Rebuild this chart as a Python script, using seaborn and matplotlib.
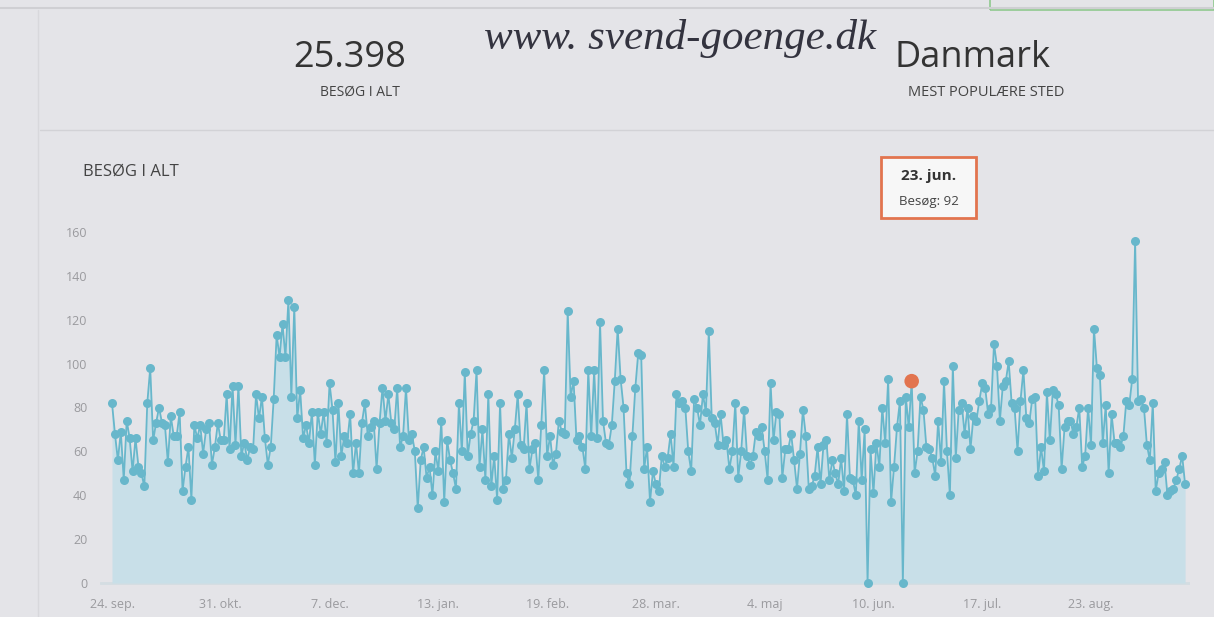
import numpy as np
import pandas as pd
import matplotlib.pyplot as plt
import matplotlib.patches as patches
import matplotlib.dates as mdates
import seaborn as sns

# Daily visits (24 sep -> 24 sep)
start_date = '2016-09-24'
visits = [
    82, 68, 56, 69, 47, 74, 66, 51, 66, 53, 50, 44, 82, 98, 65, 73, 80, 73, 72, 55,
    76, 67, 67, 78, 42, 53, 62, 38, 72, 66, 72, 59, 70, 73, 54, 62, 73, 65, 65, 86,
    61, 90, 63, 90, 58, 64, 56, 62, 61, 86, 75, 85, 66, 54, 62, 84, 113, 103, 118, 103,
    129, 85, 126, 75, 88, 66, 72, 64, 78, 54, 78, 68, 78, 64, 91,
    79, 55, 82, 58, 67, 64, 77, 50, 64, 50, 73, 82, 67, 71, 74, 52, 73, 89, 74, 86,
    73, 70, 89, 62, 67, 89, 65, 68, 60, 34, 56, 62, 48, 53, 40, 60, 51, 74, 37, 65,
    56, 50, 43, 82, 60, 96, 58, 68, 74, 97, 53, 70, 47,
    86, 44, 58, 38, 82, 43, 47, 68, 57, 70, 86, 63, 61, 82, 52, 61, 64, 47, 72, 97,
    58, 67, 54, 59, 74, 69, 68, 124, 85, 92,
    65, 67, 62, 52, 97, 67, 97, 66, 119, 74, 64, 63, 72, 92, 116, 93, 80, 50, 45, 67,
    89, 105, 104, 52, 62, 37, 51, 45, 42, 58, 53, 57, 68, 53, 86,
    82, 83, 80, 60, 51, 84, 80, 72, 86, 78, 115, 75, 73, 63, 77, 63, 65, 52, 60, 82,
    48, 60, 79, 58, 54, 58, 69, 67, 71, 60, 47, 91,
    65, 78, 77, 48, 61, 61, 68, 56, 43, 59, 79, 67, 43, 44, 49, 62, 45, 63, 65, 47,
    56, 50, 45, 57, 42, 77, 48, 47, 40, 74, 47, 70,
    0, 61, 41, 64, 53, 80, 64, 93, 37, 53, 71, 83, 0, 85, 71, 92, 50, 60, 85, 79,
    62, 61, 57, 49, 74, 55, 92, 60, 40, 99, 57, 79,
    82, 68, 80, 61, 76, 74, 83, 91, 89, 77, 80, 109, 99, 74, 90, 92, 101, 82, 80, 60,
    83, 97, 75, 73, 84, 85, 49, 62, 51, 87, 65, 88,
    86, 81, 52, 71, 74, 74, 68, 71, 80, 53, 58, 80, 63, 116, 98, 95, 64, 81, 50, 77,
    64, 64, 62, 67, 83, 81, 93, 156, 83, 84, 80, 63, 56, 82, 42, 50, 52, 55, 40, 42,
    43, 47, 52, 58, 45,
]

tick_dates = ['2016-09-24', '2016-10-31', '2016-12-07', '2017-01-13', '2017-02-19',
              '2017-03-28', '2017-05-04', '2017-06-10', '2017-07-17', '2017-08-23']
tick_labels = ['24. sep.', '31. okt.', '7. dec.', '13. jan.', '19. feb.',
               '28. mar.', '4. maj', '10. jun.', '17. jul.', '23. aug.']
y_ticks = [0, 20, 40, 60, 80, 100, 120, 140, 160]

highlight_date = '2017-06-23'
highlight_title = '23. jun.'
highlight_text = 'Besøg: 92'

total_visits = '25.398'
total_label = 'BESØG I ALT'
top_place = 'Danmark'
top_place_label = 'MEST POPULÆRE STED'
chart_title = 'BESØG I ALT'
site_note = 'www. svend-goenge.dk'

df = pd.DataFrame({'date': pd.date_range(start_date, periods=len(visits)),
                   'visits': visits})

# colours
bg = '#e4e4e8'
line_c = '#68b7cb'
fill_c = '#c8dfe8'
red_c = '#e2744f'
grey_txt = '#9a9a9e'

sns.set_style('white')
plt.rcParams['font.family'] = ['Open Sans', 'DejaVu Sans']

W, H = 1214, 617
fig = plt.figure(figsize=(W / 100, H / 100), dpi=100, facecolor=bg)

def px(x, y):
    return x / W, 1 - y / H

# axes placed so that day 0 -> x=112 px, 160 -> y=232 px, 0 -> y=583 px
left_px, right_px, top_px, bot_px = 100, 1190, 220, 590
ax = fig.add_axes([left_px / W, 1 - bot_px / H, (right_px - left_px) / W, (bot_px - top_px) / H])
ax.set_facecolor(bg)

ppd = 2.94
d0 = mdates.date2num(pd.Timestamp(start_date))
ax.set_xlim(d0 - (112 - left_px) / ppd, d0 + (right_px - 112) / ppd)
ppu = 351 / 160
ax.set_ylim(-(bot_px - 583) / ppu, 160 + (232 - top_px) / ppu)

ax.fill_between(df['date'], df['visits'], 0, color=fill_c, linewidth=0, zorder=1)
sns.lineplot(data=df, x='date', y='visits', ax=ax, color=line_c, linewidth=1.3,
             marker='o', markersize=6.5, markeredgewidth=0, zorder=3)

hi = df[df['date'] == pd.Timestamp(highlight_date)]
ax.scatter(hi['date'], hi['visits'], s=110, color=red_c, edgecolor='none', zorder=5)

ax.set_xticks(pd.to_datetime(tick_dates))
ax.set_xticklabels(tick_labels)
ax.set_yticks(y_ticks)
ax.tick_params(axis='both', length=0, labelsize=9, colors=grey_txt)
ax.tick_params(axis='x', pad=6)
ax.tick_params(axis='y', pad=9)
ax.set_xlabel('')
ax.set_ylabel('')
for s in ax.spines.values():
    s.set_visible(False)
ax.axhline(0, color='#d4dde2', linewidth=2, zorder=0)

# header texts
fig.text(*px(350, 58), total_visits, fontsize=26, color='#333333', ha='center', va='center')
fig.text(*px(360, 92), total_label, fontsize=10, color='#444444', ha='center', va='center')
fig.text(*px(972, 58), top_place, fontsize=26, color='#333333', ha='center', va='center')
fig.text(*px(986, 92), top_place_label, fontsize=10.5, color='#444444', ha='center', va='center')
fig.text(*px(680, 38), site_note, fontsize=31, color='#33333f', ha='center', va='center',
         family=['Liberation Serif', 'DejaVu Serif'], style='italic')
fig.text(*px(131, 172), chart_title, fontsize=12, color='#444444', ha='center', va='center')

# panel separator lines
fig.add_artist(plt.Line2D([40 / W, 1], [1 - 130 / H] * 2, color='#d2d2d6', linewidth=1))
fig.add_artist(plt.Line2D([38 / W] * 2, [0, 1 - 10 / H], color='#d8d8dc', linewidth=1))
fig.add_artist(plt.Line2D([0, 1], [1 - 8 / H] * 2, color='#cfcfd3', linewidth=1.5))
fig.add_artist(patches.Rectangle(px(990, 10), (W - 990) / W, 12 / H, transform=fig.transFigure,
                                 facecolor='none', edgecolor='#8fc98f', linewidth=1.2))

# tooltip
x0, y0, x1, y1 = 881, 157, 976, 218
fig.add_artist(patches.Rectangle(px(x0, y1), (x1 - x0) / W, (y1 - y0) / H, transform=fig.transFigure,
                                 facecolor='#f7f7f7', edgecolor=red_c, linewidth=2))
fig.text(*px(929, 176), highlight_title, fontsize=11, fontweight='bold', color='#333333',
         ha='center', va='center')
fig.text(*px(929, 201), highlight_text, fontsize=9.5, color='#444444', ha='center', va='center')

fig.savefig('out.png', dpi=100, facecolor=bg)
